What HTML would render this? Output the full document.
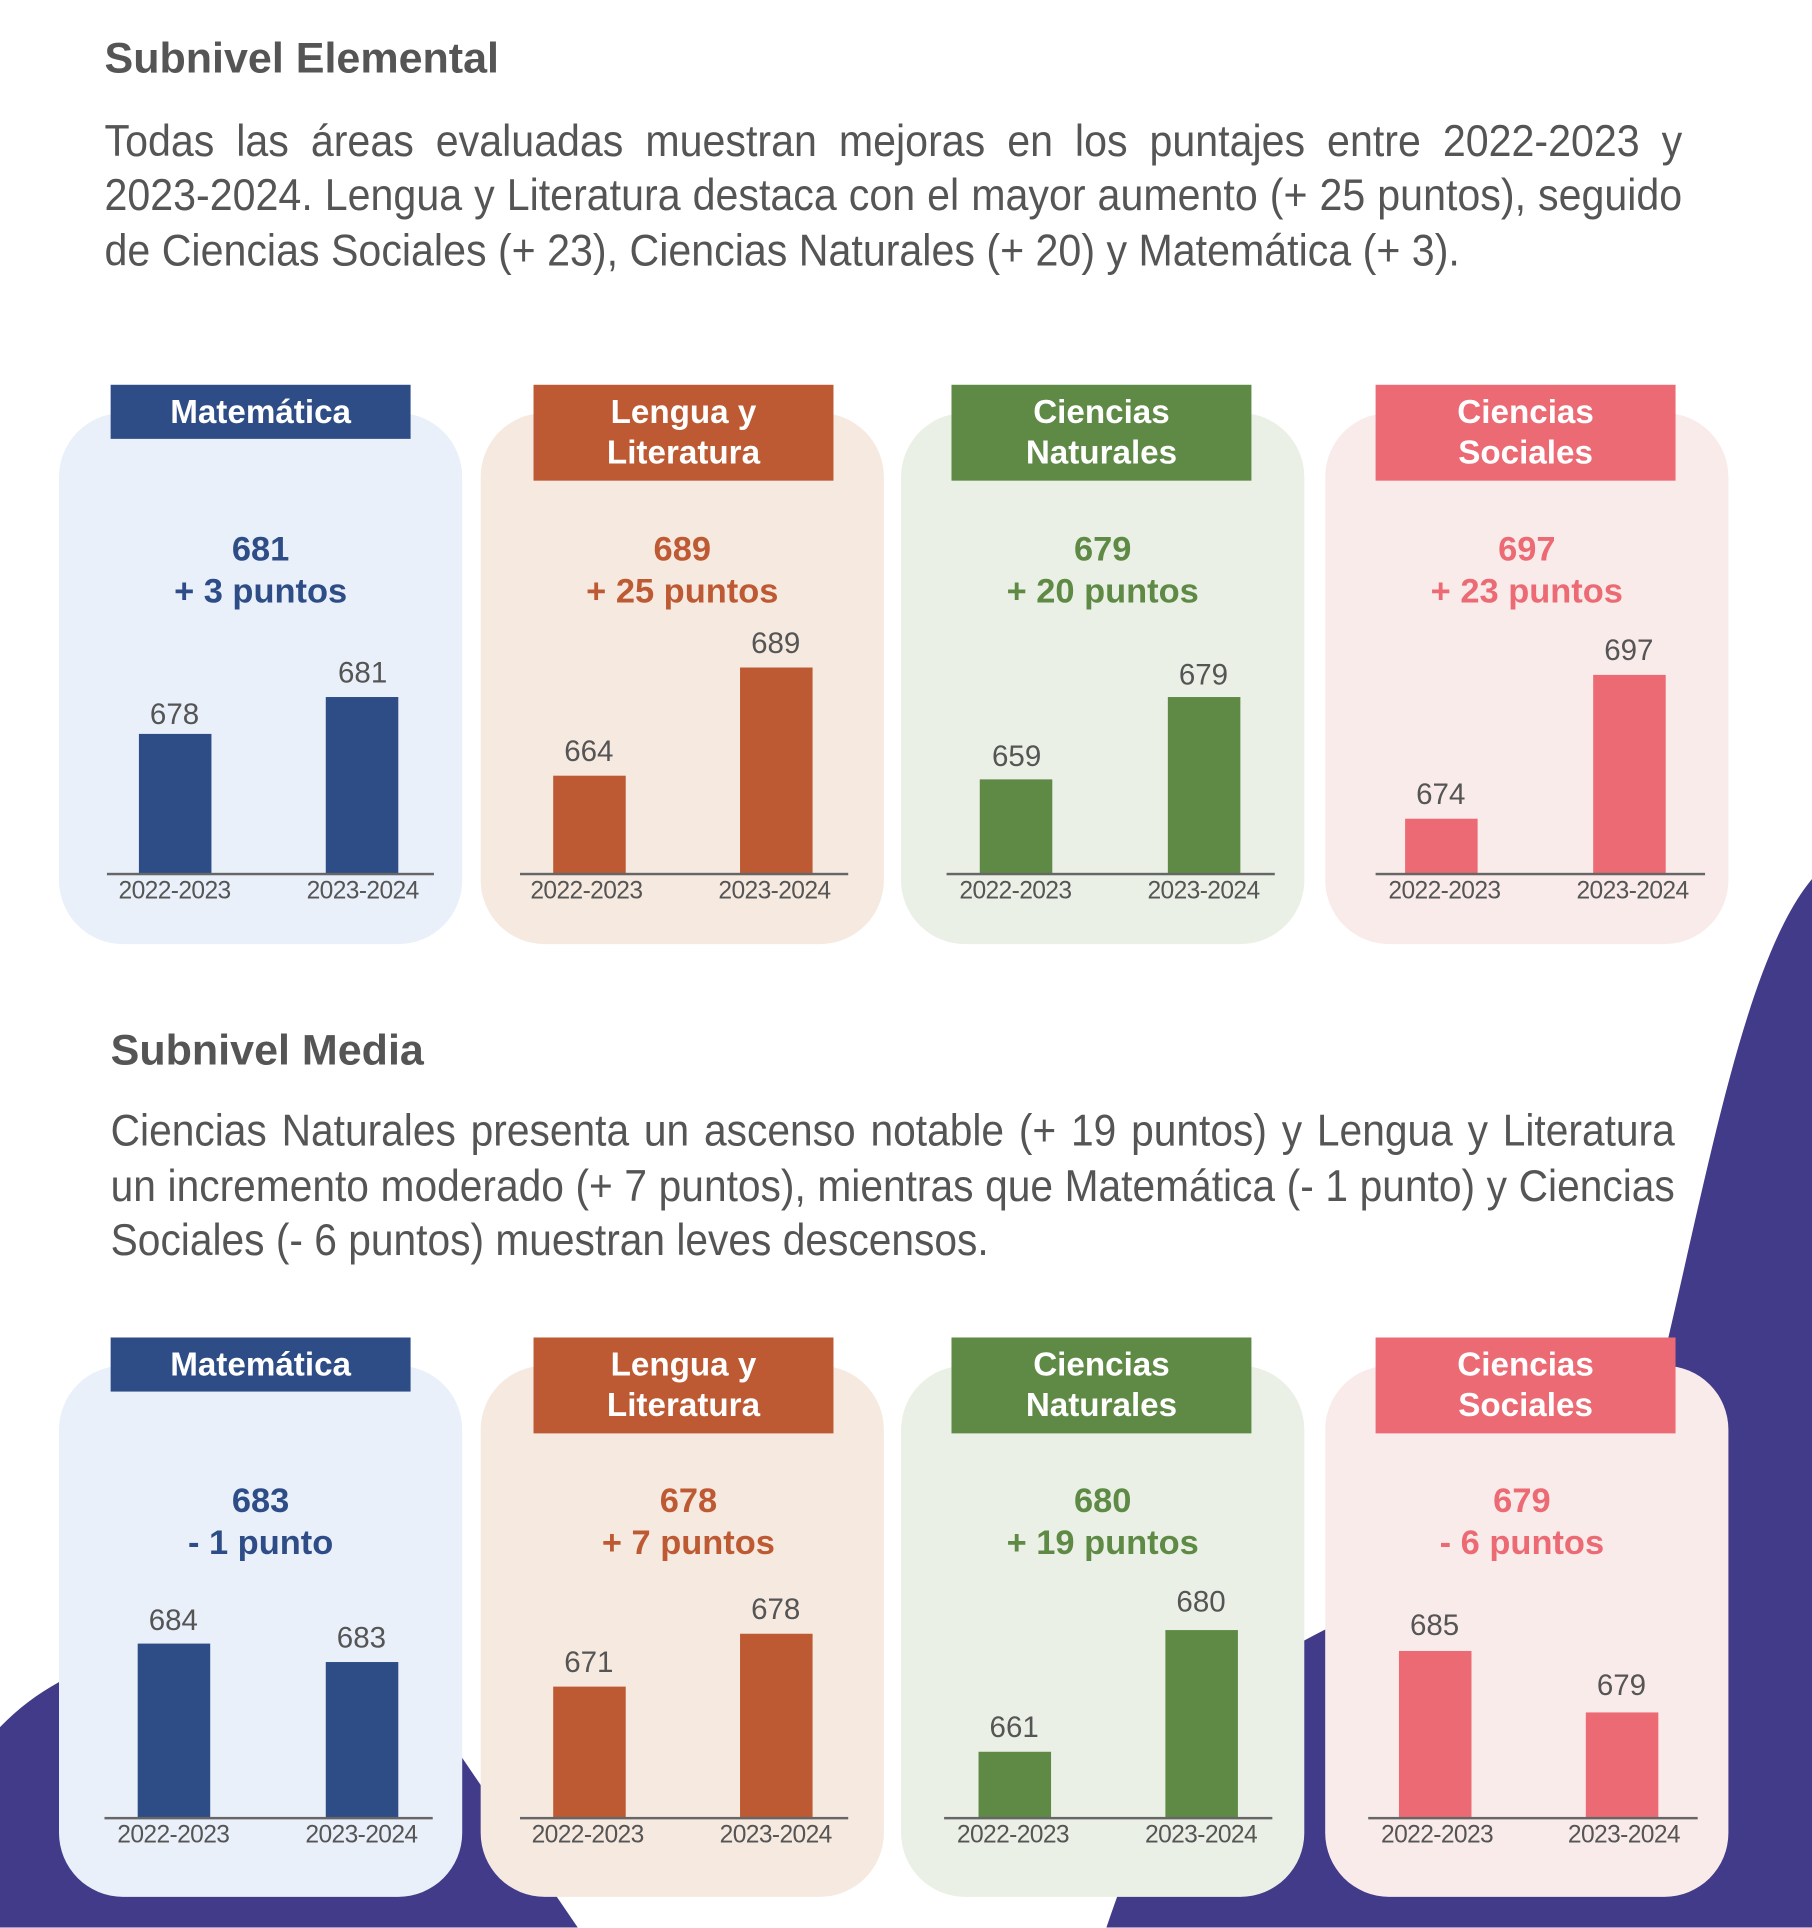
<!DOCTYPE html>
<html><head><meta charset="utf-8"><style>
html,body{margin:0;padding:0;background:#fff;}
body{width:1812px;height:1928px;overflow:hidden;position:relative;font-family:"Liberation Sans",sans-serif;}
#w{position:absolute;left:0;top:0;width:1474px;height:1568px;transform:scale(1.22931);transform-origin:0 0;}
.a{position:absolute;}
.h{position:absolute;font-weight:bold;font-size:35px;color:#555;white-space:nowrap;}
.p{position:absolute;font-size:36px;color:#555;width:1380px;transform:scaleX(0.93);transform-origin:0 0;text-align:justify;text-align-last:justify;white-space:nowrap;line-height:44px;}
.q{position:absolute;font-size:36px;color:#555;width:1383px;transform:scaleX(0.92);transform-origin:0 0;text-align:justify;text-align-last:justify;white-space:nowrap;line-height:44px;}
.card{position:absolute;width:328px;height:432px;border-radius:52px;}
.tab{position:absolute;width:244px;color:#fff;font-weight:bold;font-size:27px;text-align:center;line-height:33px;display:flex;align-items:center;justify-content:center;}
.big{position:absolute;width:328px;text-align:center;font-weight:bold;font-size:28px;line-height:34px;}
.ax{position:absolute;height:2px;background:#666;}
.bar{position:absolute;width:59px;}
.v{position:absolute;width:100px;text-align:center;font-size:24px;color:#555;}
.yl{position:absolute;width:140px;text-align:center;font-size:20px;color:#555;letter-spacing:-0.5px;}
</style></head><body><div id="w">
<svg class="a" style="left:0;top:0" width="1474" height="1568" viewBox="0 0 1474 1568">
<path d="M0,1405 C100,1300 300,1330 376,1430 L470,1568 L0,1568 Z" fill="#413B8A"/>
<path d="M1474,715 C1420,780 1390,950 1352,1110 C1320,1230 1200,1260 1060,1335 C980,1380 940,1450 900,1568 L1474,1568 Z" fill="#413B8A"/>
</svg>
<div class="h" style="left:85px;top:28px">Subnivel Elemental</div>
<div class="p" style="left:85px;top:93px">Todas las áreas evaluadas muestran mejoras en los puntajes entre 2022-2023 y</div>
<div class="p" style="left:85px;top:137px">2023-2024. Lengua y Literatura destaca con el mayor aumento (+ 25 puntos), seguido</div>
<div class="p" style="left:85px;top:182px;text-align-last:left">de Ciencias Sociales (+ 23), Ciencias Naturales (+ 20) y Matemática (+ 3).</div>

<div class="h" style="left:90px;top:835px">Subnivel Media</div>
<div class="q" style="left:90px;top:898px">Ciencias Naturales presenta un ascenso notable (+ 19 puntos) y Lengua y Literatura</div>
<div class="q" style="left:90px;top:943px">un incremento moderado (+ 7 puntos), mientras que Matemática (- 1 punto) y Ciencias</div>
<div class="q" style="left:90px;top:987px;text-align-last:left">Sociales (- 6 puntos) muestran leves descensos.</div>

<!-- ROW 1 -->
<div class="card" style="left:48px;top:336px;background:#E9F0FA"></div>
<div class="card" style="left:391px;top:336px;background:#F6E9E0"></div>
<div class="card" style="left:733px;top:336px;background:#EAF0E5"></div>
<div class="card" style="left:1078px;top:336px;background:#FAEBEB"></div>
<div class="tab" style="left:90px;top:313px;height:44px;background:#2E4D87">Matemática</div>
<div class="tab" style="left:434px;top:313px;height:78px;background:#BE5A33">Lengua y<br>Literatura</div>
<div class="tab" style="left:774px;top:313px;height:78px;background:#5F8A46">Ciencias<br>Naturales</div>
<div class="tab" style="left:1119px;top:313px;height:78px;background:#EC6A73">Ciencias<br>Sociales</div>
<div class="big" style="left:48px;top:430px;color:#2E4D87">681<br>+ 3 puntos</div>
<div class="big" style="left:391px;top:430px;color:#BE5A33">689<br>+ 25 puntos</div>
<div class="big" style="left:733px;top:430px;color:#5F8A46">679<br>+ 20 puntos</div>
<div class="big" style="left:1078px;top:430px;color:#EC6A73">697<br>+ 23 puntos</div>

<div class="bar" style="left:113px;top:597px;height:114px;background:#2E4D87"></div>
<div class="bar" style="left:265px;top:567px;height:144px;background:#2E4D87"></div>
<div class="bar" style="left:450px;top:631px;height:80px;background:#BE5A33"></div>
<div class="bar" style="left:602px;top:543px;height:168px;background:#BE5A33"></div>
<div class="bar" style="left:797px;top:634px;height:77px;background:#5F8A46"></div>
<div class="bar" style="left:950px;top:567px;height:144px;background:#5F8A46"></div>
<div class="bar" style="left:1143px;top:666px;height:45px;background:#EC6A73"></div>
<div class="bar" style="left:1296px;top:549px;height:162px;background:#EC6A73"></div>
<div class="v" style="left:92px;top:568px">678</div>
<div class="v" style="left:245px;top:534px">681</div>
<div class="v" style="left:429px;top:598px">664</div>
<div class="v" style="left:581px;top:510px">689</div>
<div class="v" style="left:777px;top:602px">659</div>
<div class="v" style="left:929px;top:536px">679</div>
<div class="v" style="left:1122px;top:633px">674</div>
<div class="v" style="left:1275px;top:516px">697</div>
<div class="ax" style="left:87px;top:710px;width:266px"></div>
<div class="ax" style="left:423px;top:710px;width:267px"></div>
<div class="ax" style="left:770px;top:710px;width:267px"></div>
<div class="ax" style="left:1119px;top:710px;width:268px"></div>
<div class="yl" style="left:72px;top:714px">2022-2023</div><div class="yl" style="left:225px;top:714px">2023-2024</div>
<div class="yl" style="left:407px;top:714px">2022-2023</div><div class="yl" style="left:560px;top:714px">2023-2024</div>
<div class="yl" style="left:756px;top:714px">2022-2023</div><div class="yl" style="left:909px;top:714px">2023-2024</div>
<div class="yl" style="left:1105px;top:714px">2022-2023</div><div class="yl" style="left:1258px;top:714px">2023-2024</div>

<!-- ROW 2 -->
<div class="card" style="left:48px;top:1111px;background:#E9F0FA"></div>
<div class="card" style="left:391px;top:1111px;background:#F6E9E0"></div>
<div class="card" style="left:733px;top:1111px;background:#EAF0E5"></div>
<div class="card" style="left:1078px;top:1111px;background:#FAEBEB"></div>
<div class="tab" style="left:90px;top:1088px;height:44px;background:#2E4D87">Matemática</div>
<div class="tab" style="left:434px;top:1088px;height:78px;background:#BE5A33">Lengua y<br>Literatura</div>
<div class="tab" style="left:774px;top:1088px;height:78px;background:#5F8A46">Ciencias<br>Naturales</div>
<div class="tab" style="left:1119px;top:1088px;height:78px;background:#EC6A73">Ciencias<br>Sociales</div>
<div class="big" style="left:48px;top:1204px;color:#2E4D87">683<br>- 1 punto</div>
<div class="big" style="left:396px;top:1204px;color:#BE5A33">678<br>+ 7 puntos</div>
<div class="big" style="left:733px;top:1204px;color:#5F8A46">680<br>+ 19 puntos</div>
<div class="big" style="left:1074px;top:1204px;color:#EC6A73">679<br>- 6 puntos</div>

<div class="bar" style="left:112px;top:1337px;height:142px;background:#2E4D87"></div>
<div class="bar" style="left:265px;top:1352px;height:127px;background:#2E4D87"></div>
<div class="bar" style="left:450px;top:1372px;height:107px;background:#BE5A33"></div>
<div class="bar" style="left:602px;top:1329px;height:150px;background:#BE5A33"></div>
<div class="bar" style="left:796px;top:1425px;height:54px;background:#5F8A46"></div>
<div class="bar" style="left:948px;top:1326px;height:153px;background:#5F8A46"></div>
<div class="bar" style="left:1138px;top:1343px;height:136px;background:#EC6A73"></div>
<div class="bar" style="left:1290px;top:1393px;height:86px;background:#EC6A73"></div>
<div class="v" style="left:91px;top:1305px">684</div>
<div class="v" style="left:244px;top:1319px">683</div>
<div class="v" style="left:429px;top:1339px">671</div>
<div class="v" style="left:581px;top:1296px">678</div>
<div class="v" style="left:775px;top:1392px">661</div>
<div class="v" style="left:927px;top:1290px">680</div>
<div class="v" style="left:1117px;top:1309px">685</div>
<div class="v" style="left:1269px;top:1358px">679</div>
<div class="ax" style="left:85px;top:1478px;width:267px"></div>
<div class="ax" style="left:423px;top:1478px;width:267px"></div>
<div class="ax" style="left:768px;top:1478px;width:267px"></div>
<div class="ax" style="left:1113px;top:1478px;width:268px"></div>
<div class="yl" style="left:71px;top:1482px">2022-2023</div><div class="yl" style="left:224px;top:1482px">2023-2024</div>
<div class="yl" style="left:408px;top:1482px">2022-2023</div><div class="yl" style="left:561px;top:1482px">2023-2024</div>
<div class="yl" style="left:754px;top:1482px">2022-2023</div><div class="yl" style="left:907px;top:1482px">2023-2024</div>
<div class="yl" style="left:1099px;top:1482px">2022-2023</div><div class="yl" style="left:1251px;top:1482px">2023-2024</div>
</div></body></html>
